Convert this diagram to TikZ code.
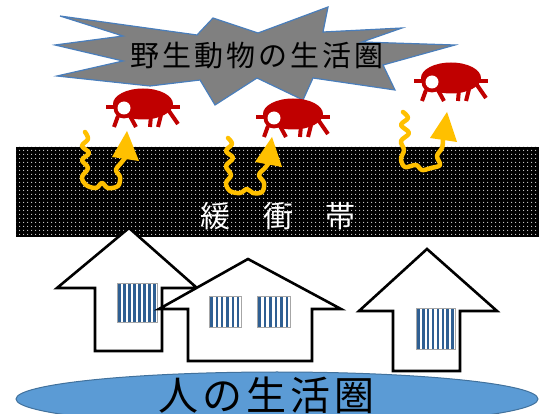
\documentclass[tikz,border=0pt]{standalone}
\usepackage{fontspec}
\newfontfamily\jpfont{Noto Sans CJK JP}
\usetikzlibrary{patterns.meta}
\definecolor{mitered}{HTML}{C00000}
\definecolor{squiggle}{HTML}{FFC000}
\definecolor{starfill}{HTML}{808080}
\definecolor{starline}{HTML}{4A7EBB}
\definecolor{humanblue}{HTML}{5B9BD5}
\definecolor{humanline}{HTML}{41719C}
\definecolor{stripe}{HTML}{2F5F92}
% striped window: left, top, right, bottom, number of stripes
\newcommand\stripedpane[5]{%
  \fill[white] (#1,#2) rectangle (#3,#4);
  \foreach \k in {1,...,#5}
    \fill[stripe] ({#1+(\k-1)*(#3-#1)/#5+1.2},#2) rectangle ++(2.5,{#4-#2});
  \draw[gray!70, line width=0.6pt] (#1,#2) rectangle (#3,#4);
}
\begin{document}
\begin{tikzpicture}[x=1pt,y=-1pt,
  house/.style={draw=black, line width=2.6pt, fill=white, line join=miter},
  starburst/.style={fill=starfill, draw=starline, line width=1.2pt, line join=miter},
  squig/.style={draw=squiggle, line width=4.5pt, line cap=round, line join=round},
  arrowhead/.style={fill=squiggle},
  legs/.style={draw=mitered, line width=4pt},
  mite/.pic={
    \fill[mitered] (0,1) ellipse [x radius=30pt, y radius=15.5pt];
    \fill[mitered] (-19,5) circle [radius=10.5pt];
    \fill[white] (-19,5) circle [radius=6.5pt];
    \draw[legs] (-37,4) -- (-26,4);
    \draw[legs] (26,4) -- (37,4);
    \draw[legs] (-25,13) -- (-29,24);
    \draw[legs] (-13,13) -- (-7,24);
    \draw[legs] (8,12) -- (7,24);
    \draw[legs] (18,12) -- (15,24);
    \draw[legs] (26,8) -- (35,21);
  },
  jplabel/.style={inner sep=0pt, text=black}
]
\useasboundingbox (0,0) rectangle (539,414);
\clip (0,0) rectangle (539,414);

% buffer zone: black band with a fine dot screen
\fill[black] (16,147) rectangle (539,237);
\fill[pattern={Dots[distance=4pt,radius=0.75pt]}, pattern color=white!85!black]
  (16,147) rectangle (539,237);
\node[jplabel, text=white, font=\jpfont\fontsize{30}{30}\selectfont] (buffer) at (278,216)
  {緩\kern33pt 衝\kern33pt 帯};

% human living area
\draw[fill=humanblue, draw=humanline, line width=1pt] (277,399) ellipse [x radius=261pt, y radius=27pt];
\node[jplabel, font=\jpfont\fontsize{40}{40}\selectfont] (human) at (266,395)
  {人\kern4pt の\kern4pt 生\kern4pt 活\kern4pt 圏};

% houses
\draw[house] (129,228) -- (197,288) -- (162,288) -- (162,351) -- (95,351) -- (95,288) -- (57,288) -- cycle;
\stripedpane{117}{283}{157}{322}{8}
\draw[house] (248,259) -- (341,309) -- (312,309) -- (312,361) -- (188,361) -- (188,309) -- (159,309) -- cycle;
\stripedpane{209}{296}{241}{327}{6}
\stripedpane{257}{296}{290}{327}{6}
\draw[house] (427,249) -- (497,311) -- (460,311) -- (460,371) -- (393,371) -- (393,311) -- (359,311) -- cycle;
\stripedpane{416}{308}{455}{349}{8}

% wildlife habitat burst
\draw[starburst] (60,16) -- (197,35) -- (213,18) -- (258,33) -- (328,7) -- (323,32)
  -- (402,28) -- (362,42) -- (455,45) -- (383,65) -- (395,90) -- (313,78)
  -- (303,100) -- (257,78) -- (215,105) -- (200,80) -- (150,86) -- (57,76)
  -- (123,61) -- (55,45) -- (123,36) -- cycle;
\node[jplabel, font=\jpfont\fontsize{29}{29}\selectfont] (wildlife) at (257,56)
  {野\kern3pt 生\kern3pt 動\kern3pt 物\kern3pt の\kern3pt 生\kern3pt 活\kern3pt 圏};

% mites
\pic at (143,103) {mite};
\pic at (293,113) {mite};
\pic at (451,77) {mite};

% wavy arrows crossing the buffer
\draw[squig] plot[smooth, tension=0.6] coordinates {(85,132) (88,139) (82,146) (89,153) (82,160)
  (88,168) (82,177) (86,185) (96,188) (102,183) (108,188) (118,186) (120,177) (116,170)
  (121,163) (125,158)};
\fill[arrowhead] (127,131) -- (112,157) -- (139,161) -- cycle;

\draw[squig] plot[smooth, tension=0.6] coordinates {(228,138) (232,144) (226,151) (233,158)
  (226,166) (231,175) (226,183) (230,191) (240,193) (247,189) (253,193) (262,192)
  (264,183) (259,175) (265,168) (268,164)};
\fill[arrowhead] (272,137) -- (255,162) -- (282,167) -- cycle;

\draw[squig] plot[smooth, tension=0.6] coordinates {(403,112) (408,118) (401,125) (409,133)
  (401,141) (404,150) (401,159) (405,167) (416,165) (422,170) (431,168) (440,165)
  (437,156) (442,148) (443,140)};
\fill[arrowhead] (447,112) -- (430,138) -- (457,142) -- cycle;
\end{tikzpicture}
\end{document}
